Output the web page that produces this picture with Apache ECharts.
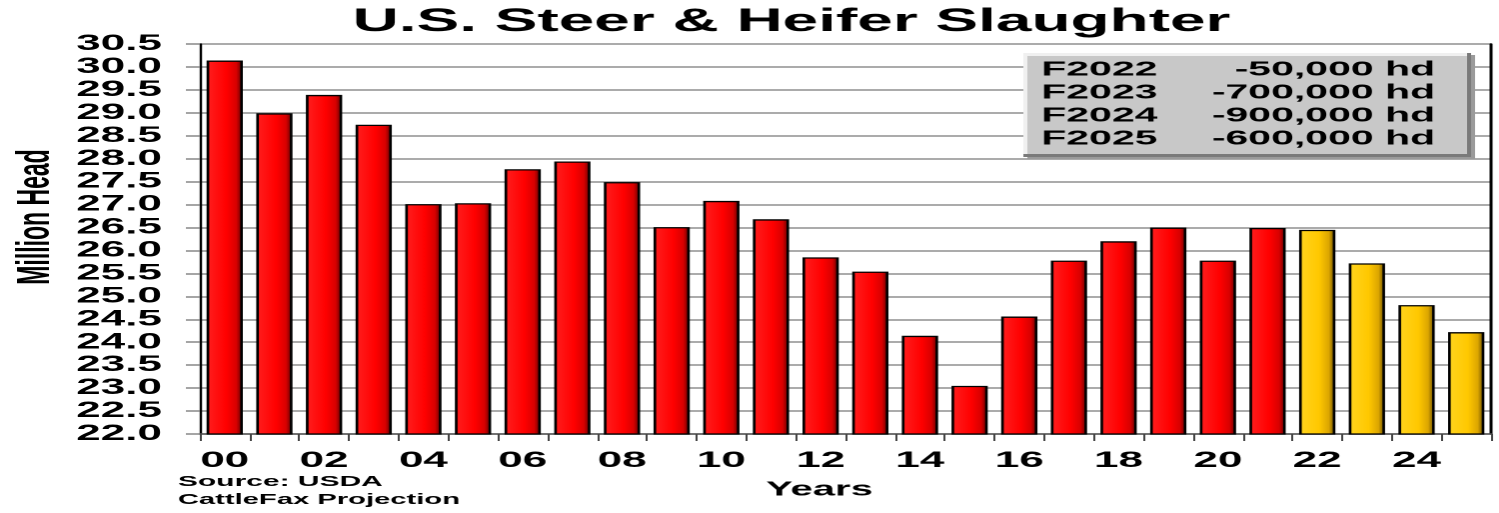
<!DOCTYPE html>
<html>
<head>
<meta charset="utf-8">
<title>U.S. Steer &amp; Heifer Slaughter</title>
<script src="https://cdn.jsdelivr.net/npm/echarts@6/dist/echarts.min.js"></script>
<style>
  html, body { margin: 0; padding: 0; background: #fff; overflow: hidden; }
  /* the chart is laid out at half width and widened to the full page */
  #chart { width: 750px; height: 513px; transform: scaleX(1.9987); transform-origin: 0 0; }
</style>
</head>
<body>
<div id="chart"></div>
<script>
// Years on the category axis (2000-2025)
const years = ['00','01','02','03','04','05','06','07','08','09','10','11','12',
               '13','14','15','16','17','18','19','20','21','22','23','24','25'];
// Reported steer & heifer slaughter, million head (2000-2021)
const actual = [30.14, 28.99, 29.39, 28.74, 27.01, 27.03, 27.77, 27.94, 27.49, 26.51,
                27.08, 26.68, 25.85, 25.54, 24.14, 23.05, 24.56, 25.78, 26.20, 26.50,
                25.78, 26.49];
// Projected slaughter, million head (2022-2025)
const projected = [26.45, 25.72, 24.81, 24.22];
// Forecast change table
const forecastYears = ['F2022', 'F2023', 'F2024', 'F2025'];
const forecastChange = ['-50,000 hd', '-700,000 hd', '-900,000 hd', '-600,000 hd'];

const FONT = '"Liberation Sans", Arial, sans-serif';

const actualData = years.map((y, i) => i < actual.length ? actual[i] : '-');
const projData = years.map((y, i) => i >= actual.length ? projected[i - actual.length] : '-');

const G = echarts.graphic;
const redFill = new G.LinearGradient(0, 0, 1, 0, [
  { offset: 0, color: '#a00000' }, { offset: 0.1, color: '#ff1a1a' },
  { offset: 0.55, color: '#ff0000' }, { offset: 0.82, color: '#d80000' },
  { offset: 1, color: '#5a0000' }
]);
const goldFill = new G.LinearGradient(0, 0, 1, 0, [
  { offset: 0, color: '#a67c00' }, { offset: 0.1, color: '#ffd21a' },
  { offset: 0.55, color: '#ffc800' }, { offset: 0.82, color: '#dca600' },
  { offset: 1, color: '#5e4600' }
]);

// forecast table drawn as a bevelled panel above the grid lines
const boxX = 512, boxY = 53, boxW = 224, boxH = 104;
const tableRows = [];
forecastYears.forEach((f, i) => {
  tableRows.push({ type: 'text', z: 110, x: boxX + 9, y: boxY + 17 + i * 23,
    style: { text: f, font: 'bold 20.5px ' + FONT, fill: '#000', textVerticalAlign: 'middle' } });
  tableRows.push({ type: 'text', z: 110, x: boxX + 206, y: boxY + 17 + i * 23,
    style: { text: forecastChange[i], font: 'bold 20.5px ' + FONT, fill: '#000',
             textAlign: 'right', textVerticalAlign: 'middle' } });
});

const chart = echarts.init(document.getElementById('chart'), null, { devicePixelRatio: 2 });
chart.setOption({
  animation: false,
  backgroundColor: '#fff',
  grid: { left: 100, right: 4, top: 44, bottom: 79, containLabel: false },
  xAxis: {
    type: 'category',
    data: years,
    boundaryGap: true,
    axisLine: { lineStyle: { color: '#555', width: 1.5 } },
    axisTick: { show: true, interval: 0, length: 7, lineStyle: { color: '#444', width: 1 } },
    axisLabel: { interval: 1, margin: 16, color: '#000', fontFamily: FONT,
                 fontWeight: 'bold', fontSize: 22 }
  },
  yAxis: [{
    type: 'value',
    min: 22, max: 30.5, interval: 0.5,
    axisLine: { show: true, lineStyle: { color: '#000', width: 1.2 } },
    axisTick: { show: true, length: 7, lineStyle: { color: '#888', width: 1.5 } },
    splitLine: { show: true, lineStyle: { color: '#8f8f8f', width: 1.5 } },
    axisLabel: { margin: 19, color: '#000', fontFamily: FONT, fontWeight: 'bold',
                 fontSize: 22, formatter: v => v.toFixed(1) }
  }, {
    type: 'value',
    position: 'right',
    min: 22, max: 30.5, interval: 0.5,
    axisLine: { show: true, lineStyle: { color: '#000', width: 1.5 } },
    axisTick: { show: false }, axisLabel: { show: false }, splitLine: { show: false }
  }],
  series: [{
    name: 'Actual', type: 'bar', data: actualData,
    barCategoryGap: '27%', barGap: '-100%',
    itemStyle: { color: redFill, borderColor: '#000', borderWidth: 1.3 }
  }, {
    name: 'Projection', type: 'bar', data: projData,
    barCategoryGap: '27%', barGap: '-100%',
    itemStyle: { color: goldFill, borderColor: '#000', borderWidth: 1.3 }
  }],
  graphic: [
    { type: 'text', x: 396, y: 6,
      style: { text: 'U.S. Steer & Heifer Slaughter', font: 'bold 32px ' + FONT,
               fill: '#000', textAlign: 'center' } },
    { type: 'text', x: 18, y: 217, rotation: Math.PI / 2,
      style: { text: 'Million Head', font: 'bold 23px ' + FONT, fill: '#000',
               textAlign: 'center', textVerticalAlign: 'middle' } },
    { type: 'text', x: 410, y: 490,
      style: { text: 'Years', font: 'bold 20px ' + FONT, fill: '#000',
               textAlign: 'center', textVerticalAlign: 'middle' } },
    { type: 'text', x: 89, y: 482,
      style: { text: 'Source: USDA', font: 'bold 15px ' + FONT, fill: '#000',
               textVerticalAlign: 'middle' } },
    { type: 'text', x: 89, y: 500,
      style: { text: 'CattleFax Projection', font: 'bold 14.6px ' + FONT, fill: '#000',
               textVerticalAlign: 'middle' } },
    { type: 'rect', z: 100, shape: { x: boxX + 2, y: boxY + 2, width: boxW, height: boxH },
      style: { fill: '#9a9a9a' } },
    { type: 'rect', z: 101, shape: { x: boxX, y: boxY, width: boxW, height: boxH },
      style: { fill: '#7a7a7a' } },
    { type: 'rect', z: 102, shape: { x: boxX, y: boxY, width: boxW - 2, height: boxH - 3 },
      style: { fill: '#f0f0f0' } },
    { type: 'rect', z: 103, shape: { x: boxX + 2, y: boxY + 3, width: boxW - 4, height: boxH - 6 },
      style: { fill: '#c8c8c8' } }
  ].concat(tableRows)
});
</script>
</body>
</html>
